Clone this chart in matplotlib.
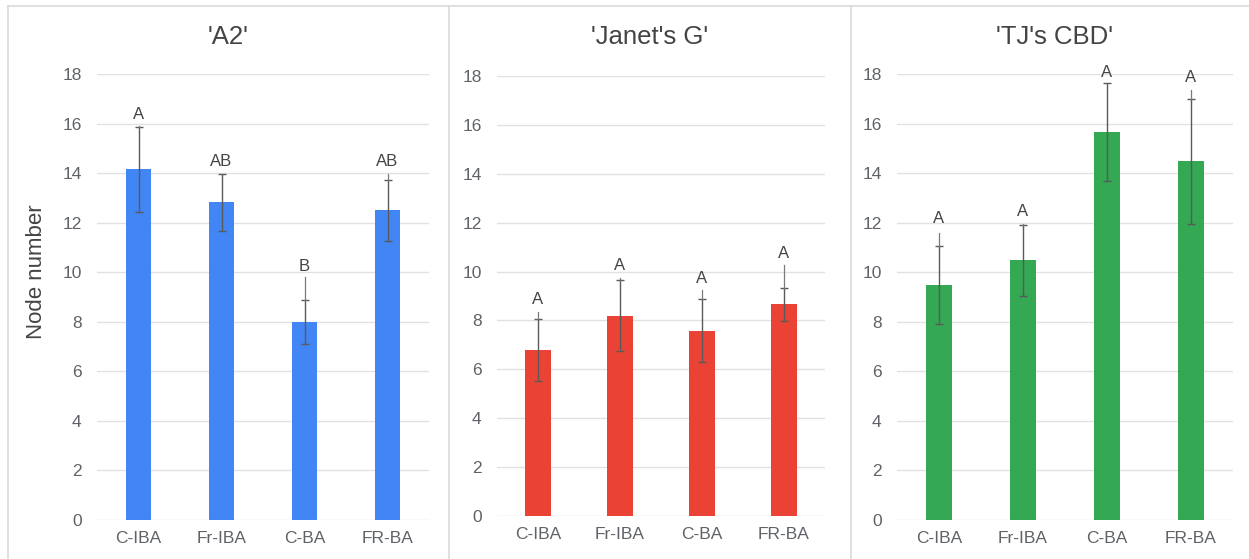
import matplotlib
matplotlib.use("Agg")
import matplotlib.pyplot as plt
from matplotlib.lines import Line2D

plt.rcParams["font.family"] = ["Liberation Sans", "DejaVu Sans"]

# ---- data -------------------------------------------------------------
treatments = ["C-IBA", "Fr-IBA", "C-BA", "FR-BA"]
cultivars = ["'A2'", "'Janet's G'", "'TJ's CBD'"]

a2_mean = [14.15, 12.82, 7.99, 12.50]
a2_err = [1.70, 1.14, 0.89, 1.24]
a2_letters = ["A", "AB", "B", "AB"]
a2_letter_y = [16.35, 14.45, 10.25, 14.45]
a2_stem_top = [15.90, 13.97, 9.80, 13.97]

janet_mean = [6.79, 8.20, 7.58, 8.66]
janet_err = [1.25, 1.47, 1.29, 0.68]
janet_letters = ["A", "A", "A", "A"]
janet_letter_y = [8.85, 10.25, 9.73, 10.75]
janet_stem_top = [8.36, 9.75, 9.25, 10.27]

tj_mean = [9.48, 10.49, 15.65, 14.48]
tj_err = [1.57, 1.43, 1.97, 2.53]
tj_letters = ["A", "A", "A", "A"]
tj_letter_y = [12.15, 12.47, 18.08, 17.84]
tj_stem_top = [11.60, 11.93, 17.62, 17.35]

colors = ["#4285F4", "#EA4335", "#34A853"]
y_ticks = [0, 2, 4, 6, 8, 10, 12, 14, 16, 18]
y_label = "Node number"

series = [
    (a2_mean, a2_err, a2_letters, a2_letter_y, a2_stem_top),
    (janet_mean, janet_err, janet_letters, janet_letter_y, janet_stem_top),
    (tj_mean, tj_err, tj_letters, tj_letter_y, tj_stem_top),
]

# ---- layout (pixels of a 1249 x 559 canvas) ---------------------------
W, H = 1249, 559
axes_px = [(97, 74, 429, 520), (497, 76, 825, 516), (897, 74, 1233, 520)]
panel_px = [(8, 449), (449, 851), (851, 1257)]

TEXT = "#444444"
TICK = "#5f6368"
GRID = "#e2e2e2"
FRAME = "#dadada"
ERR = "#5a5a5a"

fig = plt.figure(figsize=(W / 100, H / 100), dpi=100)

# panel frames
fig.add_artist(Line2D([8 / W, 1.0], [1 - 6 / H] * 2, color=FRAME, lw=1.2,
                      transform=fig.transFigure))
for x in (8, 449, 851):
    fig.add_artist(Line2D([x / W] * 2, [1 - 6 / H, 0], color=FRAME, lw=1.2,
                          transform=fig.transFigure))

for i, ((x0, y0, x1, y1), (p0, p1), (mean, err, letters, ly, stem), title) in enumerate(
        zip(axes_px, panel_px, series, cultivars)):
    ax = fig.add_axes([x0 / W, 1 - y1 / H, (x1 - x0) / W, (y1 - y0) / H])
    xs = list(range(len(treatments)))
    ax.bar(xs, mean, width=0.31, color=colors[i], zorder=2)
    ax.errorbar(xs, mean, yerr=err, fmt="none", ecolor=ERR, elinewidth=1.0,
                capsize=3, capthick=1.0, zorder=3)
    for x, m, e, s, t, yy in zip(xs, mean, err, stem, letters, ly):
        if s > m + e:
            ax.plot([x, x], [m + e, s], color="#7a7a7a", lw=0.9, zorder=3,
                    clip_on=False)
        ax.text(x, yy, t, ha="center", va="center", fontsize=12, color=TEXT,
                clip_on=False, zorder=4)

    ax.set_xlim(-0.5, len(treatments) - 0.5)
    ax.set_ylim(0, 18)
    ax.set_yticks(y_ticks)
    ax.set_xticks(xs)
    ax.set_xticklabels(treatments)
    ax.grid(axis="y", color=GRID, lw=1.0, zorder=0)
    ax.set_axisbelow(True)
    for sp in ax.spines.values():
        sp.set_visible(False)
    ax.tick_params(axis="both", length=0, labelsize=12.5, colors=TICK)
    ax.tick_params(axis="y", pad=11)
    ax.tick_params(axis="x", pad=8)

    fig.text(((p0 + p1) / 2) / W, 1 - 37 / H, title, ha="center", va="center",
             fontsize=18.5, color=TEXT)

fig.text(37 / W, 1 - 272 / H, y_label, rotation=90, ha="center", va="center",
         fontsize=16, color=TEXT)

fig.savefig("out.png", dpi=100, facecolor="white")
